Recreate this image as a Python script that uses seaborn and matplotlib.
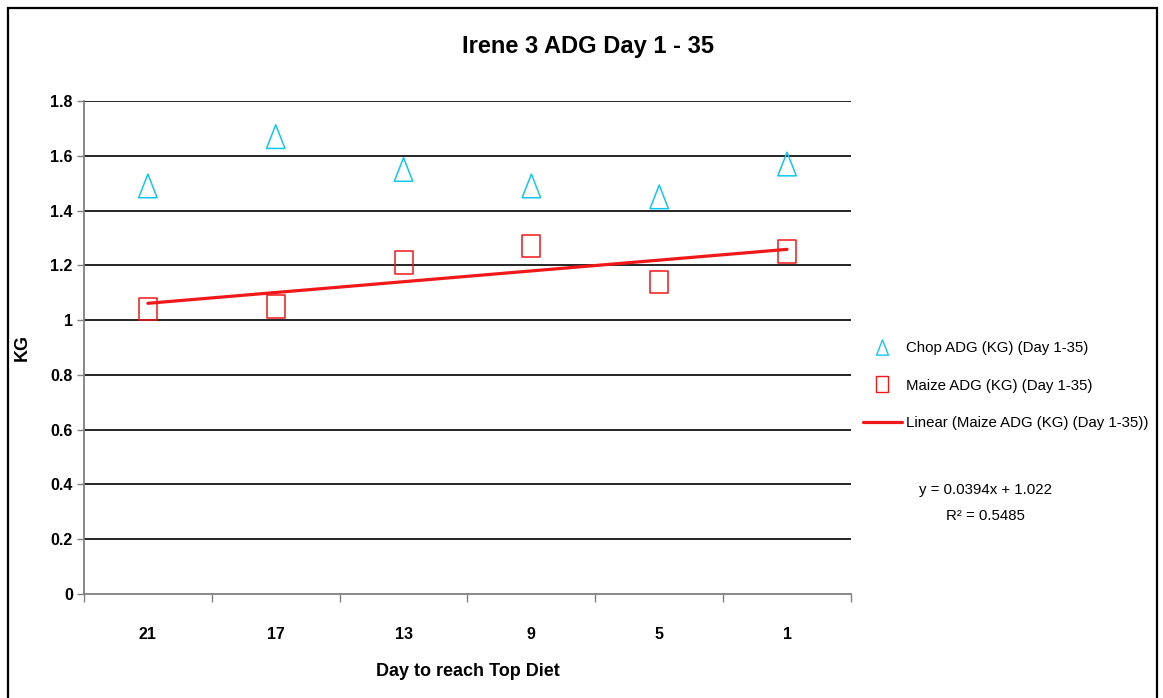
import matplotlib
matplotlib.use("Agg")
import matplotlib.pyplot as plt
from matplotlib.lines import Line2D
from matplotlib.patches import Rectangle
from matplotlib.path import Path
import numpy as np
import pandas as pd
import seaborn as sns

# Chart data
days = ["21", "17", "13", "9", "5", "1"]
chop_adg = [1.49, 1.67, 1.55, 1.49, 1.45, 1.57]
maize_adg = [1.04, 1.05, 1.21, 1.27, 1.14, 1.25]
trend_slope = 0.0394
trend_intercept = 1.022
trend_r2 = 0.5485
y_ticks = [0, 0.2, 0.4, 0.6, 0.8, 1, 1.2, 1.4, 1.6, 1.8]

sns.set_theme(style="white")
FONT = ["Liberation Sans Narrow", "Liberation Sans", "DejaVu Sans"]
plt.rcParams["font.family"] = FONT
plt.rcParams["text.color"] = "black"
plt.rcParams["axes.labelcolor"] = "black"
plt.rcParams["xtick.color"] = "black"
plt.rcParams["ytick.color"] = "black"

CYAN = "#12C6F2"
RED = "#F01818"

pos = np.arange(1, len(days) + 1)
df = pd.DataFrame({"pos": pos, "chop": chop_adg, "maize": maize_adg})

# tall open markers
tri = Path([(0, 1), (-0.78, -1), (0.78, -1), (0, 1)], closed=True)
rect = Path([(-0.8, -1), (0.8, -1), (0.8, 1), (-0.8, 1), (-0.8, -1)], closed=True)

fig = plt.figure(figsize=(11.63, 6.98), dpi=100)
fig.patch.set_facecolor("white")
fig.add_artist(Rectangle((0.007, -0.01), 0.988, 0.999, transform=fig.transFigure,
                         fill=False, edgecolor="black", linewidth=1.6))

ax = fig.add_axes([0.0722, 0.149, 0.6595, 0.7063])
ax.set_facecolor("white")

for v in y_ticks[1:]:
    ax.axhline(v, color="black", linewidth=1.2, zorder=1)

sns.scatterplot(data=df, x="pos", y="chop", marker=tri, s=290, facecolors="none",
                edgecolor=CYAN, linewidth=1.1, ax=ax, zorder=3)
sns.scatterplot(data=df, x="pos", y="maize", marker=rect, s=260, facecolors="none",
                edgecolor=RED, linewidth=1.1, ax=ax, zorder=3)

trend_x = np.array([pos[0], pos[-1]], dtype=float)
trend_y = trend_slope * trend_x + trend_intercept
sns.lineplot(x=trend_x, y=trend_y, color=RED, linewidth=2.3, ax=ax, zorder=4)

ax.set_xlim(0.5, len(days) + 0.5)
ax.set_ylim(0, 1.8)
ax.set_yticks(y_ticks)
ax.set_yticklabels(["0" if v == 0 else ("1" if v == 1 else f"{v:.1f}") for v in y_ticks],
                   fontsize=11.5, fontweight="bold")
ax.set_xticks(pos)
ax.set_xticklabels(days, fontsize=11.5, fontweight="bold")
ax.set_xticks(np.arange(0.5, len(days) + 1, 1), minor=True)
ax.tick_params(axis="x", which="major", length=0, pad=24)
ax.tick_params(axis="x", which="minor", length=6, width=1, color="#808080", direction="out")
ax.tick_params(axis="y", which="major", length=5, width=1, color="#808080", direction="out", pad=3)
ax.xaxis.set_ticks_position("bottom")
ax.yaxis.set_ticks_position("left")

for side in ["top", "right"]:
    ax.spines[side].set_visible(False)
for side in ["left", "bottom"]:
    ax.spines[side].set_color("#808080")
    ax.spines[side].set_linewidth(1.3)

ax.set_xlabel("Day to reach Top Diet", fontsize=13, fontweight="bold", labelpad=15)
ax.set_ylabel("KG", fontsize=13, fontweight="bold", labelpad=14)

fig.text(0.5055, 0.933, "Irene 3 ADG Day 1 - 35", ha="center", va="center",
         fontsize=17, fontweight="bold")

handles = [
    Line2D([], [], linestyle="none", marker=tri, markersize=11, markerfacecolor="none",
           markeredgecolor=CYAN, markeredgewidth=1.0),
    Line2D([], [], linestyle="none", marker=rect, markersize=11, markerfacecolor="none",
           markeredgecolor=RED, markeredgewidth=1.0),
    Line2D([], [], color=RED, linewidth=2.3),
]
labels = ["Chop ADG (KG) (Day 1-35)", "Maize ADG (KG) (Day 1-35)",
          "Linear (Maize ADG (KG) (Day 1-35))"]
fig.legend(handles, labels, loc="upper left", bbox_to_anchor=(0.7355, 0.5215),
           frameon=False, fontsize=10.8, handlelength=2.6, handletextpad=0.25,
           labelspacing=1.55, borderpad=0)

fig.text(0.847, 0.2795, f"y = {trend_slope}x + {trend_intercept}\nR² = {trend_r2}",
         ha="center", va="center", fontsize=10.8, linespacing=2.05)

fig.savefig("out.png", dpi=100, facecolor="white")
